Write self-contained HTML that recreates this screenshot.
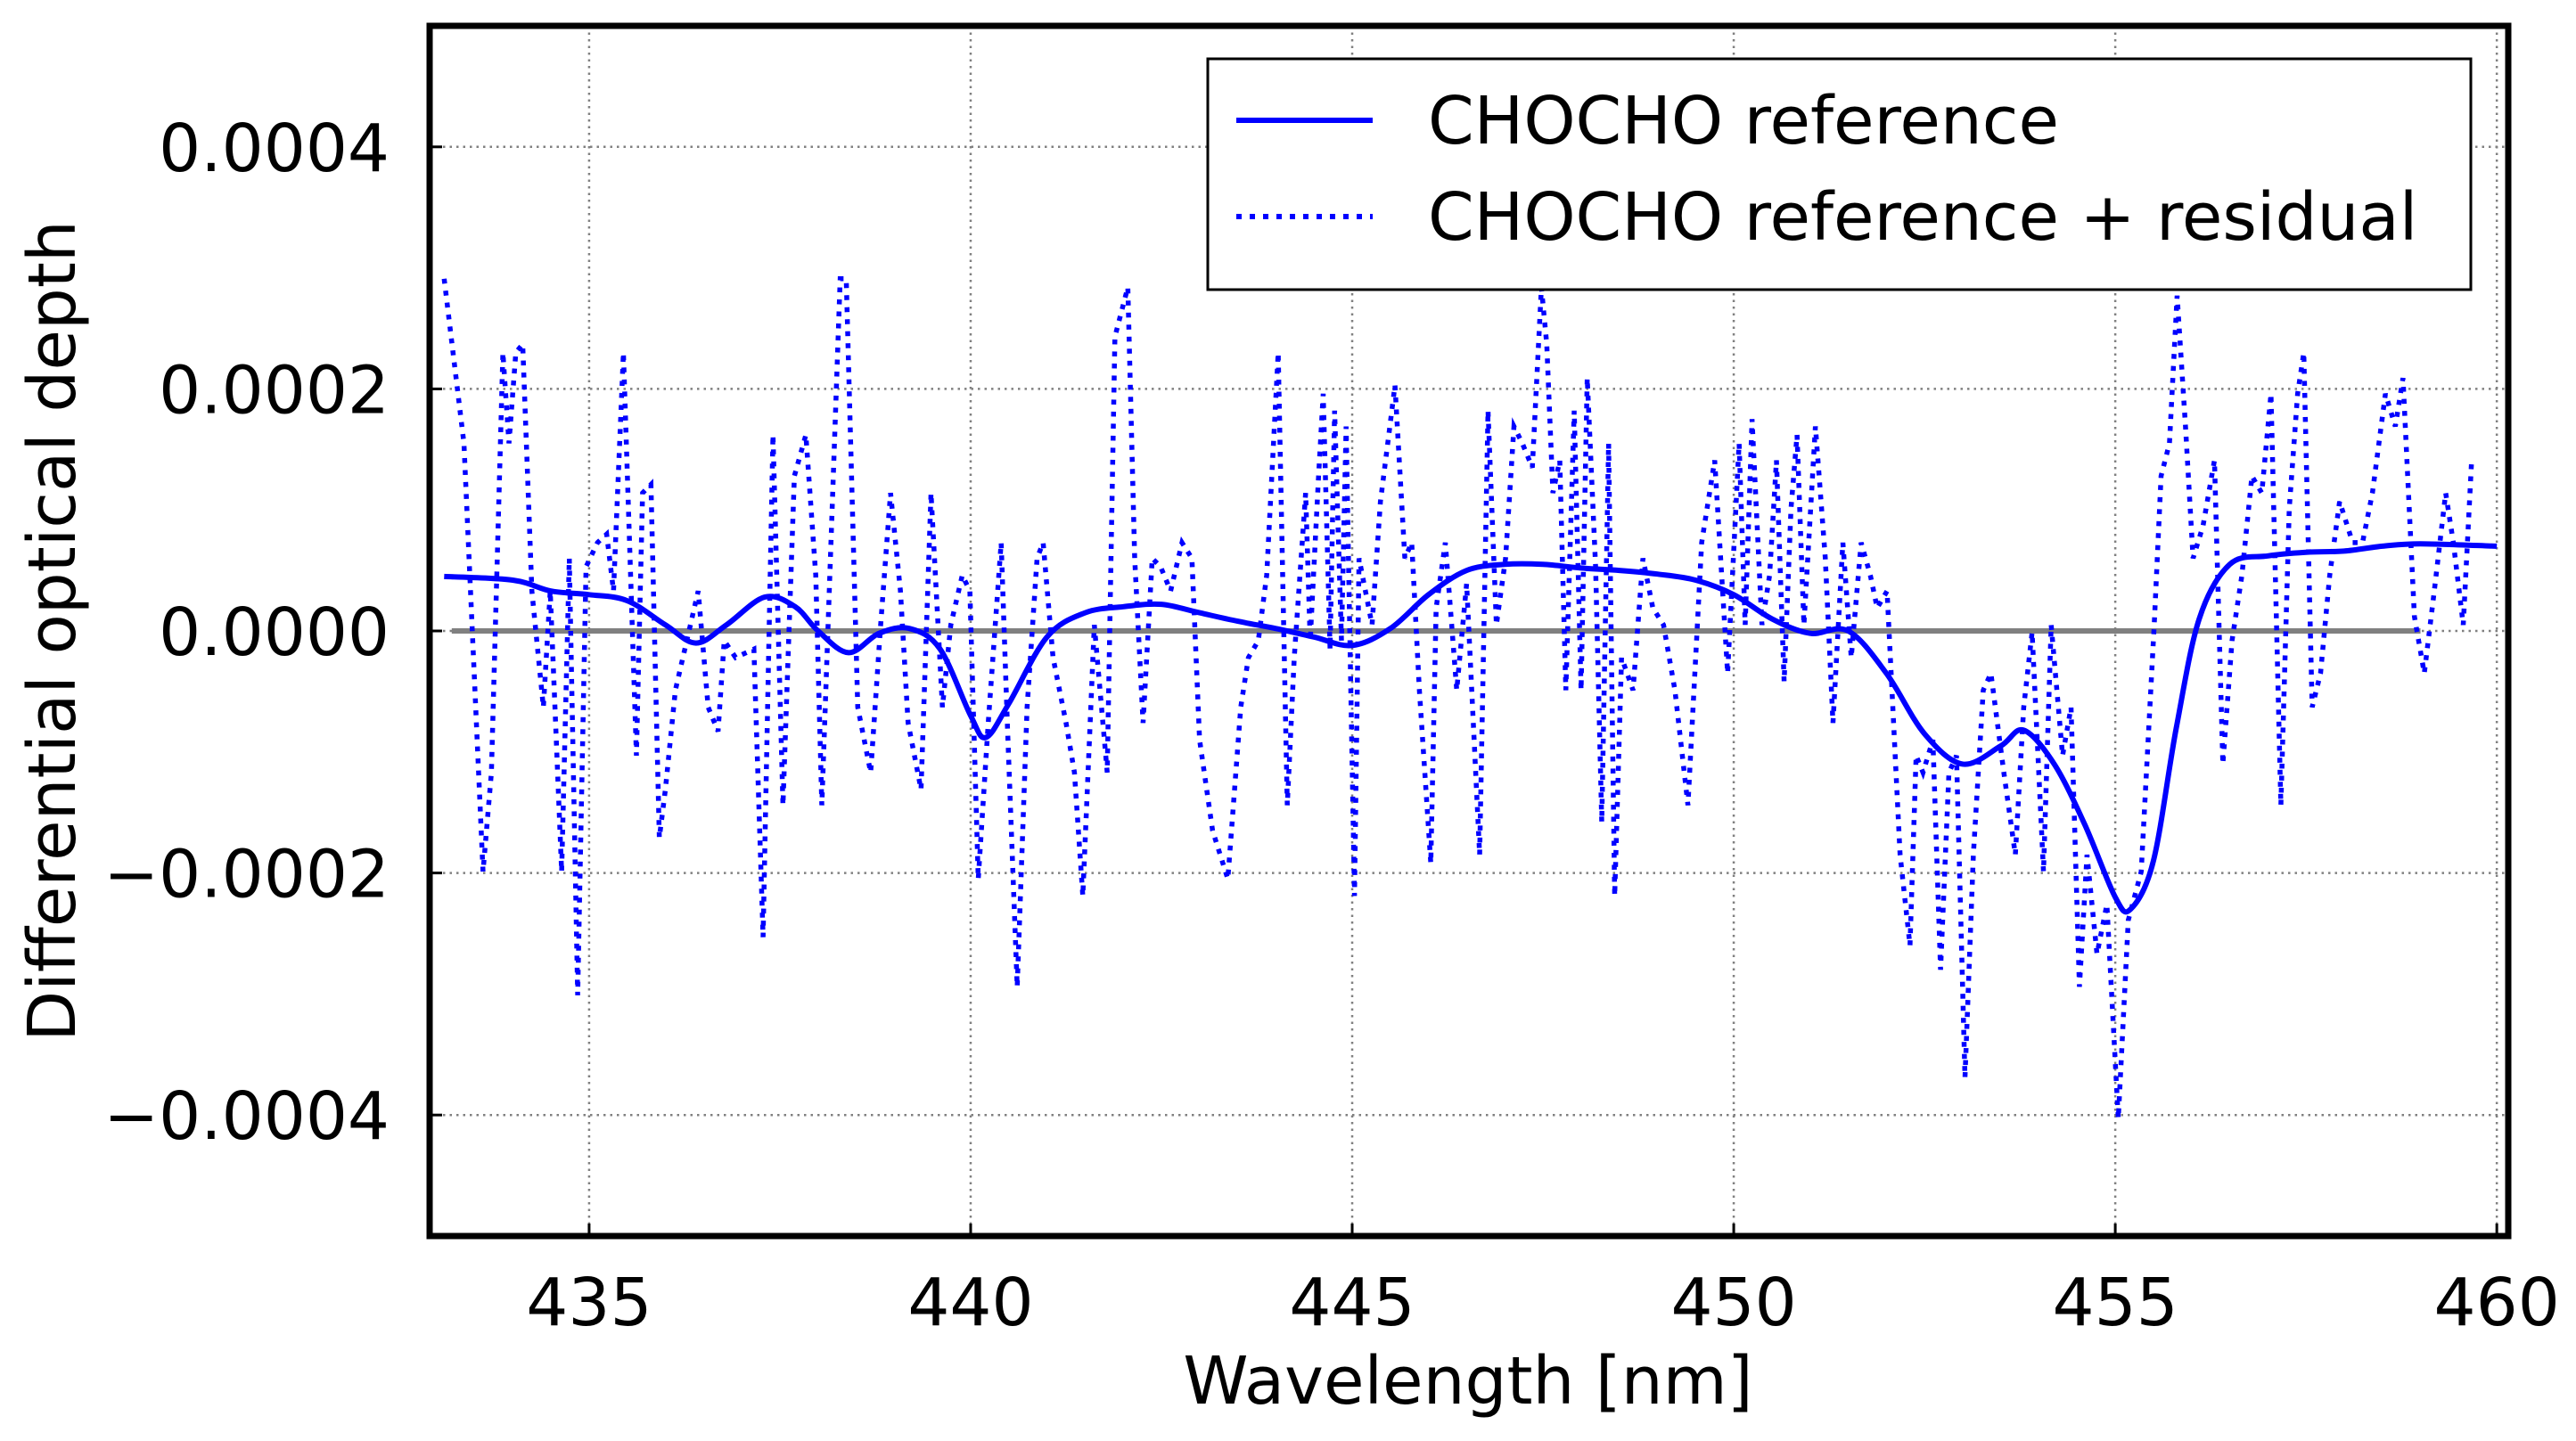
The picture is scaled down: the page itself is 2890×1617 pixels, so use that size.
<!DOCTYPE html>
<html><head><meta charset="utf-8"><style>html,body{margin:0;padding:0;background:#fff}svg{display:block}text{font-family:"DejaVu Sans","Liberation Sans",sans-serif}</style></head>
<body>
<svg id="chart" xmlns="http://www.w3.org/2000/svg" width="2890" height="1617" viewBox="0 0 2890 1617">
<rect width="2890" height="1617" fill="#fff"/>
<g id="grid"></g>
<g id="plot"></g>
<g id="axes"></g>
<text x="1647" y="1575" font-size="74" text-anchor="middle">Wavelength [nm]</text>
<text x="59" y="708" font-size="74" text-anchor="middle" dominant-baseline="central" transform="rotate(-90 59 708)">Differential optical depth</text>
<g>
<rect x="1355" y="66" width="1417" height="259" fill="#fff" stroke="#000" stroke-width="3"/>
<line x1="1387" y1="135" x2="1540" y2="135" stroke="#0000ff" stroke-width="6"/>
<text x="1602" y="161" font-size="74">CHOCHO reference</text>
<line x1="1387" y1="243" x2="1540" y2="243" stroke="#0000ff" stroke-width="6" stroke-dasharray="6 9"/>
<text x="1602" y="269" font-size="74">CHOCHO reference + residual</text>
</g>
</svg>
<script>
const xTicks=[435,440,445,450,455,460];
const yTicks=[-0.0004,-0.0002,0,0.0002,0.0004];
const yTickLabels=["\u22120.0004","\u22120.0002","0.0000","0.0002","0.0004"];
const refX=[433.1,434,434.5,435,435.5,436,436.4,436.8,437.3,437.7,438,438.4,438.8,439.2,439.6,440,440.2,440.5,441,441.5,442,442.5,443,443.5,444,444.5,445,445.5,446,446.5,447,447.5,448,448.5,449,449.5,450,450.5,451,451.5,452,452.5,453,453.5,453.8,454.2,454.6,455,455.2,455.5,455.8,456.1,456.5,457,457.5,458,458.5,459,460];
const refY=[0.45,0.42,0.33,0.3,0.25,0.05,-0.1,0.05,0.28,0.2,0.0,-0.18,-0.02,0.02,-0.15,-0.7,-0.88,-0.6,-0.05,0.15,0.2,0.22,0.15,0.08,0.02,-0.05,-0.12,0.02,0.3,0.5,0.55,0.55,0.52,0.5,0.47,0.42,0.3,0.1,-0.02,0.0,-0.35,-0.85,-1.1,-0.95,-0.82,-1.1,-1.6,-2.2,-2.3,-1.9,-0.8,0.1,0.55,0.62,0.65,0.66,0.7,0.72,0.7];
const resX=[433.10,433.36,433.61,433.72,433.87,433.95,434.04,434.13,434.25,434.40,434.49,434.64,434.74,434.85,434.96,435.11,435.23,435.32,435.45,435.62,435.70,435.81,435.92,436.00,436.13,436.28,436.43,436.56,436.69,436.77,436.92,437.16,437.28,437.41,437.54,437.69,437.84,437.97,438.05,438.14,438.29,438.37,438.52,438.69,438.82,438.95,439.08,439.18,439.35,439.48,439.63,439.74,439.89,439.99,440.10,440.23,440.40,440.48,440.61,440.74,440.87,440.95,441.08,441.25,441.36,441.47,441.62,441.79,441.89,442.06,442.15,442.26,442.38,442.49,442.62,442.77,442.90,443.00,443.17,443.37,443.54,443.64,443.77,443.88,444.03,444.15,444.24,444.39,444.45,444.56,444.62,444.71,444.77,444.86,444.92,445.03,445.09,445.26,445.37,445.48,445.56,445.69,445.78,445.88,446.03,446.10,446.22,446.37,446.50,446.67,446.78,446.89,447.01,447.12,447.23,447.36,447.48,447.55,447.63,447.72,447.80,447.91,448.00,448.08,448.19,448.27,448.36,448.44,448.53,448.68,448.81,448.94,449.08,449.23,449.40,449.58,449.75,449.92,450.07,450.15,450.24,450.37,450.47,450.56,450.66,450.75,450.83,450.92,451.07,451.20,451.30,451.43,451.54,451.67,451.79,451.88,452.01,452.18,452.31,452.39,452.48,452.61,452.71,452.82,452.92,453.03,453.14,453.27,453.37,453.54,453.69,453.80,453.91,454.06,454.16,454.31,454.42,454.53,454.63,454.76,454.89,455.04,455.17,455.34,455.51,455.60,455.71,455.81,455.92,456.02,456.15,456.30,456.41,456.53,456.66,456.79,456.92,457.04,457.17,457.28,457.39,457.47,457.58,457.69,457.81,457.94,458.11,458.24,458.37,458.54,458.67,458.77,458.92,459.05,459.18,459.33,459.43,459.56,459.67];
const resY=[2.91,1.55,-1.99,-1.17,2.30,1.55,2.30,2.37,0.33,-0.63,0.33,-1.99,0.60,-3.01,0.53,0.73,0.80,0.33,2.30,-1.03,1.14,1.21,-1.71,-1.31,-0.49,-0.08,0.33,-0.63,-0.83,-0.08,-0.22,-0.15,-2.53,1.62,-1.44,1.28,1.62,0.46,-1.44,0.19,2.91,2.91,-0.63,-1.17,0.05,1.14,0.33,-0.76,-1.31,1.14,-0.63,0.05,0.46,0.33,-2.05,-0.76,0.73,-0.76,-2.94,-0.63,0.60,0.73,-0.22,-0.76,-1.17,-2.19,0.05,-1.17,2.43,2.84,0.60,-0.76,0.60,0.53,0.33,0.73,0.60,-0.90,-1.65,-2.05,-0.63,-0.22,-0.08,0.46,2.30,-1.44,-0.22,1.14,-0.08,1.28,1.96,-0.15,1.82,-0.08,1.69,-2.19,0.60,0.05,1.07,1.62,2.03,0.60,0.73,-0.49,-1.92,0.19,0.73,-0.49,0.39,-1.85,1.82,0.05,0.60,1.69,1.55,1.35,2.84,2.37,1.14,1.41,-0.49,1.82,-0.49,2.09,0.53,-1.58,1.55,-2.19,-0.22,-0.49,0.60,0.19,0.05,-0.49,-1.44,0.73,1.41,-0.35,1.55,0.05,1.75,0.05,0.46,1.41,-0.42,1.01,1.62,0.05,1.69,0.60,-0.76,0.73,-0.22,0.73,0.46,0.19,0.33,-1.85,-2.60,-1.03,-1.17,-0.90,-2.80,-1.17,-1.03,-3.69,-1.85,-0.49,-0.35,-1.17,-1.85,-0.63,-0.01,-1.99,0.05,-1.03,-0.63,-2.94,-1.85,-2.67,-2.26,-4.03,-2.39,-1.99,0.05,1.28,1.55,2.77,1.69,0.60,0.87,1.41,-1.10,-0.08,0.46,1.28,1.14,1.96,-1.44,1.01,1.96,2.30,-0.63,-0.35,0.46,1.07,0.73,0.73,1.14,1.96,1.69,2.09,0.12,-0.35,0.33,1.14,0.73,0.05,1.41];
const zeroLine=[433.2,459.0];

const L=482,R=2814,T=29,B=1387,XMIN=432.91,XMAX=460.15,YMIN=-0.0005,YMAX=0.0005;
const sx=v=>L+(v-XMIN)/(XMAX-XMIN)*(R-L);
const sy=v=>B-(v-YMIN)/(YMAX-YMIN)*(B-T);
const NS="http://www.w3.org/2000/svg";
function mk(tag,attrs,parent){const e=document.createElementNS(NS,tag);for(const k in attrs)e.setAttribute(k,attrs[k]);parent.appendChild(e);return e;}
function smooth(p){let d='M'+p[0][0].toFixed(1)+','+p[0][1].toFixed(1);
 for(let i=0;i<p.length-1;i++){const p0=p[Math.max(0,i-1)],p1=p[i],p2=p[i+1],p3=p[Math.min(p.length-1,i+2)];
  const c1=[p1[0]+(p2[0]-p0[0])/6,p1[1]+(p2[1]-p0[1])/6],c2=[p2[0]-(p3[0]-p1[0])/6,p2[1]-(p3[1]-p1[1])/6];
  d+=' C'+c1[0].toFixed(1)+','+c1[1].toFixed(1)+' '+c2[0].toFixed(1)+','+c2[1].toFixed(1)+' '+p2[0].toFixed(1)+','+p2[1].toFixed(1);}
 return d;}
const grid=document.getElementById('grid'),plot=document.getElementById('plot'),axes=document.getElementById('axes');
xTicks.forEach(t=>{const x=sx(t);
 const g=mk('line',{x1:x,y1:T,x2:x,y2:B,stroke:'#808080','stroke-width':2.5,'stroke-dasharray':'2.5 5'},grid);
 
 
 const tk=mk('line',{x1:x,y1:B,x2:x,y2:B-14,stroke:'#000','stroke-width':3},axes);
 
 
 const lb=mk('text',{x:x,y:1487,'font-size':74,'text-anchor':'middle'},axes);lb.textContent=String(t);
 
 
});
yTicks.forEach((t,i)=>{const y=sy(t);
 const g=mk('line',{x1:L,y1:y,x2:R,y2:y,stroke:'#808080','stroke-width':2.5,'stroke-dasharray':'2.5 5'},grid);
 
 
 const tk=mk('line',{x1:L,y1:y,x2:L+14,y2:y,stroke:'#000','stroke-width':3},axes);
 
 
 const lb=mk('text',{x:437,y:y+27,'font-size':74,'text-anchor':'end'},axes);lb.textContent=yTickLabels[i];
 
 
});
const z=mk('line',{x1:sx(zeroLine[0]),y1:sy(0),x2:sx(zeroLine[1]),y2:sy(0),stroke:'#808080','stroke-width':6},plot);


const resPts=resX.map((x,i)=>sx(x).toFixed(1)+','+sy(resY[i]*1e-4).toFixed(1)).join(' ');
const res=mk('polyline',{points:resPts,fill:'none',stroke:'#0000ff','stroke-width':5.5,'stroke-dasharray':'5.5 8'},plot);


const refP=refX.map((x,i)=>[sx(x),sy(refY[i]*1e-4)]);
const ref=mk('path',{d:smooth(refP),fill:'none',stroke:'#0000ff','stroke-width':6,'stroke-linejoin':'round'},plot);


const fr=mk('rect',{x:L,y:T,width:R-L,height:B-T,fill:'none',stroke:'#000','stroke-width':7},axes);


</script>
</body></html>
